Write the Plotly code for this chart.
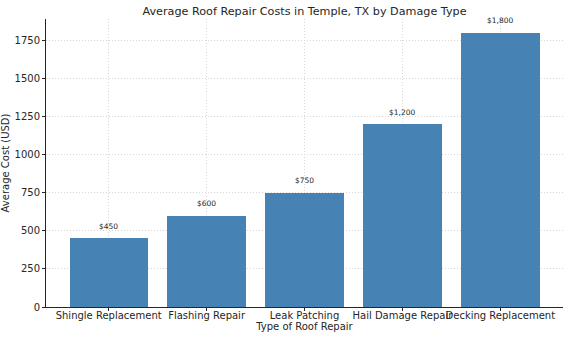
import plotly.graph_objects as go

repair_types = ["Shingle Replacement", "Flashing Repair", "Leak Patching",
                "Hail Damage Repair", "Decking Replacement"]
avg_costs = [450, 600, 750, 1200, 1800]
y_ticks = [0, 250, 500, 750, 1000, 1250, 1500, 1750]

font = "DejaVu Sans, sans-serif"
ink = "#262626"
grid = "#d6d6d6"

fig = go.Figure(go.Bar(
    x=list(range(len(repair_types))),
    y=avg_costs,
    width=0.8,
    marker=dict(color="#4682B4", line=dict(width=0)),
    hoverinfo="skip",
))

for i, v in enumerate(avg_costs):
    fig.add_annotation(x=i, y=v, text=f"${v:,}", showarrow=False,
                       yanchor="middle", yshift=12,
                       font=dict(family=font, size=7.5, color=ink))

fig.update_layout(
    width=568, height=338,
    margin=dict(l=46, r=5, t=19, b=31),
    plot_bgcolor="white", paper_bgcolor="white",
    showlegend=False,
    bargap=0,
    title=dict(text="Average Roof Repair Costs in Temple, TX by Damage Type",
               x=(46 + 563) / 2 / 568, xanchor="center",
               y=1 - 11 / 338, yanchor="middle",
               font=dict(family=font, size=11.2, color=ink)),
    xaxis=dict(
        range=[-0.64, 4.64],
        tickvals=list(range(len(repair_types))), ticktext=repair_types,
        tickangle=0, automargin=False, ticklabelstandoff=-4,
        tickfont=dict(family=font, size=10, color=ink),
        showline=True, linecolor=ink, linewidth=1,
        ticks="outside", ticklen=3, tickcolor=ink,
        showgrid=True, gridcolor=grid, griddash="1px,2px", gridwidth=1,
        zeroline=False,
        title=dict(text="Type of Roof Repair", standoff=0,
                   font=dict(family=font, size=10, color=ink)),
    ),
    yaxis=dict(
        range=[0, 1890],
        tickvals=y_ticks, automargin=False,
        tickfont=dict(family=font, size=10, color=ink),
        showline=True, linecolor=ink, linewidth=1,
        ticks="outside", ticklen=3, tickcolor=ink,
        showgrid=True, gridcolor=grid, griddash="1px,2px", gridwidth=1,
        zeroline=False,
        title=dict(text="Average Cost (USD)", standoff=3,
                   font=dict(family=font, size=10, color=ink)),
    ),
)

fig.write_html("out.html")
